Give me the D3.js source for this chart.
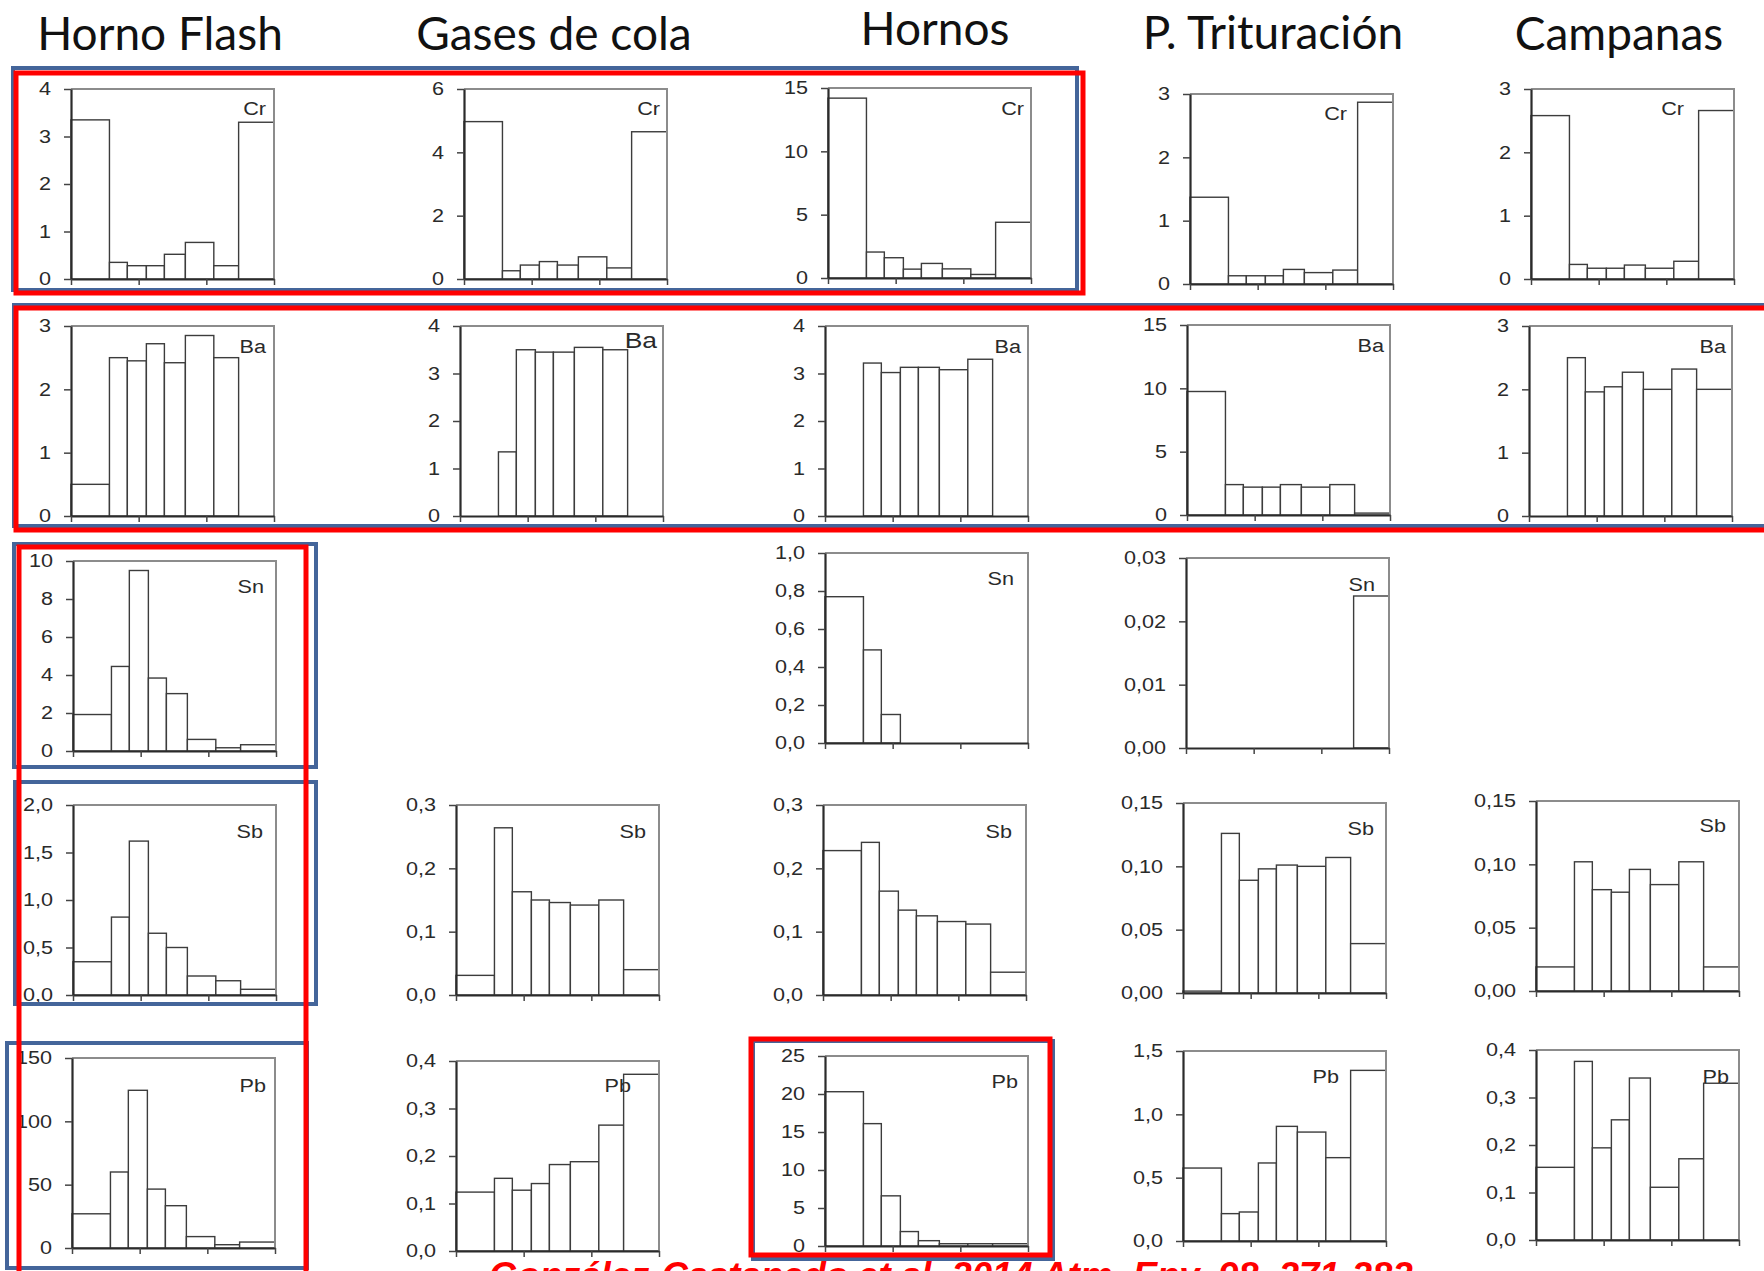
<!DOCTYPE html>
<html>
<head>
<meta charset="utf-8">
<script src="https://cdn.jsdelivr.net/npm/d3@7"></script>
<style>
  body { margin: 0; background: #fff; }
  svg { display: block; }
</style>
</head>
<body>
<script>
// Columnas (fuentes) y filas (elementos)
const sources = ["Horno Flash", "Gases de cola", "Hornos", "P. Trituración", "Campanas"];
const elements = ["Cr", "Ba", "Sn", "Sb", "Pb"];

// Límites de los intervalos de tamaño (µm), eje x logarítmico
const binEdges = [0.01, 0.037, 0.068, 0.13, 0.24, 0.49, 1.29, 3.0, 10];
const xTicks = [0.01, 0.1, 1, 10];

// Valores por elemento, una lista por fuente (null = sin gráfico)
const crValues = [
  [3.35, 0.35, 0.28, 0.28, 0.52, 0.77, 0.28, 3.3],
  [4.97, 0.26, 0.44, 0.55, 0.44, 0.7, 0.35, 4.65],
  [14.2, 2.05, 1.6, 0.7, 1.15, 0.72, 0.28, 4.4],
  [1.37, 0.13, 0.13, 0.13, 0.23, 0.18, 0.22, 2.87],
  [2.58, 0.23, 0.17, 0.17, 0.22, 0.17, 0.28, 2.66]
];
const baValues = [
  [0.5, 2.5, 2.45, 2.72, 2.42, 2.85, 2.5, 0],
  [0, 1.35, 3.5, 3.45, 3.45, 3.55, 3.5, 0],
  [0, 3.22, 3.02, 3.13, 3.13, 3.08, 3.3, 0],
  [9.75, 2.4, 2.2, 2.2, 2.4, 2.2, 2.4, 0.15],
  [0, 2.5, 1.96, 2.04, 2.27, 2.0, 2.32, 2.0]
];
const snValues = [
  [1.92, 4.45, 9.5, 3.84, 3.02, 0.61, 0.17, 0.33],
  null,
  [0.77, 0.49, 0.15, 0, 0, 0, 0, 0],
  [0, 0, 0, 0, 0, 0, 0, 0.024],
  null
];
const sbValues = [
  [0.35, 0.82, 1.62, 0.65, 0.5, 0.2, 0.15, 0.06],
  [0.031, 0.264, 0.163, 0.15, 0.146, 0.142, 0.15, 0.04],
  [0.228, 0.241, 0.164, 0.134, 0.125, 0.116, 0.112, 0.036],
  [0.0015, 0.126, 0.089, 0.098, 0.101, 0.1, 0.107, 0.039],
  [0.019, 0.102, 0.08, 0.078, 0.096, 0.084, 0.102, 0.019]
];
const pbValues = [
  [27, 60, 124.5, 46.5, 33.4, 9, 2.6, 4.7],
  [0.124, 0.153, 0.128, 0.142, 0.182, 0.188, 0.265, 0.372],
  [20.3, 16.1, 6.6, 1.9, 0.7, 0.3, 0.3, 0.3],
  [0.576, 0.216, 0.229, 0.616, 0.905, 0.86, 0.658, 1.347],
  [0.153, 0.376, 0.194, 0.253, 0.341, 0.111, 0.171, 0.33]
];

// Máximo del eje y y paso de las marcas
const crMax = [4, 6, 15, 3, 3],        crStep = [1, 2, 5, 1, 1];
const baMax = [3, 4, 4, 15, 3],        baStep = [1, 1, 1, 5, 1];
const snMax = [10, null, 1, 0.03, null], snStep = [2, null, 0.2, 0.01, null];
const sbMax = [2, 0.3, 0.3, 0.15, 0.15], sbStep = [0.5, 0.1, 0.1, 0.05, 0.05];
const pbMax = [150, 0.4, 25, 1.5, 0.4],  pbStep = [50, 0.1, 5, 0.5, 0.1];

const allValues = [crValues, baValues, snValues, sbValues, pbValues];
const allMax = [crMax, baMax, snMax, sbMax, pbMax];
const allStep = [crStep, baStep, snStep, sbStep, pbStep];

const citation = "González-Castanedo et al. 2014 Atm. Env. 98, 271-282";

// ---- maquetación ----
const W = 203, H = 190;
const panelPos = [
  [[71, 89], [464, 89], [828, 88], [1190, 94], [1531, 89]],
  [[71, 326], [460, 326], [825, 326], [1187, 325], [1529, 326]],
  [[73, 561], null, [825, 553], [1186, 558], null],
  [[73, 805], [456, 805], [823, 805], [1183, 803], [1536, 801]],
  [[72, 1058], [456, 1061], [825, 1056], [1183, 1051], [1536, 1050]]
];
// posición de la etiqueta del elemento: [distancia al borde derecho, baseline desde arriba]
const labelPos = [
  [[8, 26], [7, 26], [7, 27], [46, 26], [50, 26]],
  [[8, 27], [6, 22], [7, 27], [6, 27], [6, 27]],
  [[12, 32], null, [14, 32], [14, 33], null],
  [[13, 33], [13, 33], [14, 33], [12, 32], [13, 31]],
  [[9, 34], [28, 31], [10, 32], [47, 32], [10, 33]]
];
const titleX = [160, 554, 935, 1273, 1619];
const titleY = [50, 50, 45, 49, 50];

const locale = d3.formatLocale({ decimal: ",", thousands: ".", grouping: [3], currency: ["", "€"] });

const svg = d3.select("body").append("svg")
  .attr("width", 1764)
  .attr("height", 1271);

// estira el texto en horizontal (la figura original está ensanchada)
function stretch(sel, k) {
  sel.each(function () {
    const l = this.getComputedTextLength();
    d3.select(this).attr("textLength", l * k).attr("lengthAdjust", "spacingAndGlyphs");
  });
}

// Títulos de columna
svg.selectAll("text.title")
  .data(sources)
  .join("text")
  .attr("class", "title")
  .attr("x", (d, i) => titleX[i])
  .attr("y", (d, i) => titleY[i])
  .attr("text-anchor", "middle")
  .attr("font-family", "Lato")
  .attr("font-size", 46)
  .attr("fill", "#111")
  .text(d => d);

const x = d3.scaleLog().domain([0.01, 10]).range([0, W]);

elements.forEach((el, r) => {
  sources.forEach((src, c) => {
    const values = allValues[r][c];
    if (!values) return;
    const max = allMax[r][c], step = allStep[r][c];
    const [px, py] = panelPos[r][c];

    const g = svg.append("g").attr("transform", `translate(${px},${py})`);
    const y = d3.scaleLinear().domain([0, max]).range([H, 0]);

    const bins = values.map((v, i) => ({ v, x0: binEdges[i], x1: binEdges[i + 1] }))
      .filter(d => d.v > 0);

    g.selectAll("rect.bar")
      .data(bins)
      .join("rect")
      .attr("class", "bar")
      .attr("x", d => x(d.x0))
      .attr("width", d => x(d.x1) - x(d.x0))
      .attr("y", d => y(d.v))
      .attr("height", d => H - y(d.v))
      .attr("fill", "#fff")
      .attr("stroke", "#3c3c3c")
      .attr("stroke-width", 1.4);

    // marco superior y derecho
    g.append("path")
      .attr("d", `M0,0H${W}V${H}`)
      .attr("fill", "none")
      .attr("stroke", "#8c8c8c")
      .attr("stroke-width", 2);

    // eje y
    const fmt = locale.format(`.${d3.precisionFixed(step)}f`);
    const yAxis = g.append("g")
      .call(d3.axisLeft(y)
        .tickValues(d3.range(0, max + step / 2, step))
        .tickFormat(fmt)
        .tickSize(7)
        .tickSizeOuter(0)
        .tickPadding(13));
    // eje x (sin etiquetas)
    const xAxis = g.append("g")
      .attr("transform", `translate(0,${H})`)
      .call(d3.axisBottom(x).tickValues(xTicks).tickFormat("").tickSize(6).tickSizeOuter(0));

    [yAxis, xAxis].forEach(a => {
      a.select(".domain").attr("stroke", "#2b2b2b").attr("stroke-width", 2.2);
      a.selectAll(".tick line").attr("stroke", "#444").attr("stroke-width", 1.5);
    });
    yAxis.selectAll("text")
      .attr("font-family", "Liberation Sans, Arial, sans-serif")
      .attr("font-size", 18)
      .attr("fill", "#2a2a2a")
      .call(stretch, 1.2);

    // etiqueta del elemento
    const [ldx, ldy] = labelPos[r][c];
    g.append("text")
      .attr("x", W - ldx)
      .attr("y", ldy)
      .attr("text-anchor", "end")
      .attr("font-family", "Liberation Sans, Arial, sans-serif")
      .attr("font-size", (r === 1 && c === 1) ? 22 : 18)
      .attr("fill", "#2a2a2a")
      .text(el)
      .call(stretch, 1.2);
  });
});

// Recuadros de anotación (azul y rojo)
const blueBoxes = [
  [13, 68, 1077, 290], [14, 305, 1770, 526], [14, 544, 316, 767],
  [15, 782, 316, 1004], [7, 1043, 307, 1268], [753, 1041, 1053, 1259]
];
const redBoxes = [
  [16, 73, 1083, 293], [16, 308, 1775, 530], [19, 547, 306, 1290], [751, 1039, 1050, 1255]
];
svg.append("g").selectAll("rect")
  .data(blueBoxes)
  .join("rect")
  .attr("x", d => d[0]).attr("y", d => d[1])
  .attr("width", d => d[2] - d[0]).attr("height", d => d[3] - d[1])
  .attr("fill", "none")
  .attr("stroke", "#44659a")
  .attr("stroke-width", 4);
svg.append("g").selectAll("rect")
  .data(redBoxes)
  .join("rect")
  .attr("x", d => d[0]).attr("y", d => d[1])
  .attr("width", d => d[2] - d[0]).attr("height", d => d[3] - d[1])
  .attr("fill", "none")
  .attr("stroke", "#ff0000")
  .attr("stroke-width", 5);

// Referencia (cortada por el borde inferior, como en el original)
svg.append("text")
  .attr("x", 489)
  .attr("y", 1288)
  .attr("font-family", "Liberation Sans, Arial, sans-serif")
  .attr("font-size", 36.5)
  .attr("font-weight", "bold")
  .attr("font-style", "italic")
  .attr("fill", "#ff0000")
  .text(citation);
</script>
</body>
</html>
